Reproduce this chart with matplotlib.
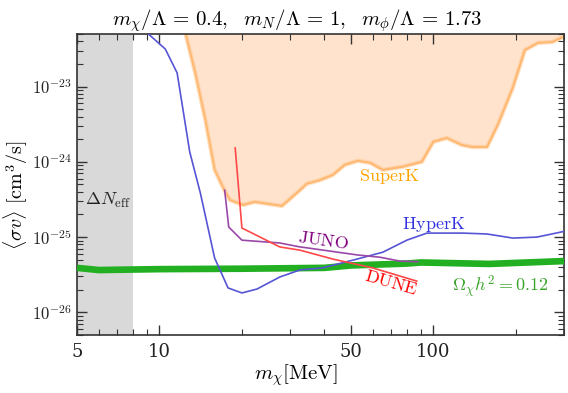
import numpy as np
import matplotlib
matplotlib.use("Agg")
import matplotlib.pyplot as plt
from matplotlib.ticker import FixedLocator, FixedFormatter, LogLocator, NullFormatter

plt.rcParams['mathtext.fontset'] = 'cm'
plt.rcParams['font.family'] = 'serif'
plt.rcParams['font.serif'] = ['DejaVu Serif']

# ---- data ----
hyperk_m = [8.8, 10.5, 11.6, 12.9, 14.1, 15.9, 17.8, 20.0, 22.7, 27.5, 32.6, 39.5, 52.6, 65.4, 80, 94.7, 128, 157, 195, 239, 300]
hyperk_sv = [5.6e-23, 3.16e-23, 1.52e-23, 1.35e-24, 3.86e-25, 5.27e-26, 2.11e-26, 1.81e-26, 2.04e-26, 2.95e-26, 3.66e-26,
             3.9e-26, 5.1e-26, 6.3e-26, 9.1e-26, 1.13e-25, 1.13e-25, 1.1e-25, 9.7e-26, 1.0e-25, 1.19e-25]

superk_m = [12.3, 13.5, 14.7, 15.9, 17.3, 18.1, 20.2, 22.3, 28.0, 32.6, 34.5, 38.5, 43, 47.5, 53, 58.7, 65.4, 77.4, 90.8,
            100, 112, 127, 139, 157, 172, 195, 216, 241, 271, 300]
superk_sv = [6e-23, 1.52e-23, 3.6e-24, 7.8e-25, 4.1e-25, 3.1e-25, 2.67e-25, 2.93e-25, 2.59e-25, 4.2e-25, 5.1e-25, 5.7e-25,
             6.7e-25, 9.1e-25, 1.03e-24, 9.7e-25, 7.8e-25, 8.6e-25, 1.0e-24, 1.84e-24, 2.07e-24, 1.67e-24, 1.57e-24,
             1.57e-24, 3.1e-24, 9.6e-24, 3.06e-23, 3.8e-23, 3.9e-23, 4.6e-23]

juno_m = [17.3, 17.9, 20.0, 27.5, 32.6, 34.5, 52.6, 63.8, 75.5, 87.8]
juno_sv = [4.2e-25, 1.36e-25, 9.1e-26, 8.35e-26, 7.4e-26, 7.2e-26, 5.8e-26, 5.4e-26, 4.8e-26, 4.7e-26]

dune_m = [18.9, 20.0, 27.5, 32.6, 43, 60, 87]
dune_sv = [1.53e-24, 1.32e-25, 7.4e-26, 6.7e-26, 5.1e-26, 3.9e-26, 2.6e-26]

relic_m = [5, 6, 10, 20, 40, 50, 80, 90, 160, 300]
relic_sv = [3.9e-26, 3.65e-26, 3.75e-26, 3.8e-26, 3.9e-26, 4.2e-26, 4.45e-26, 4.6e-26, 4.4e-26, 4.8e-26]

neff_bound = 8.0
xticks = [5, 10, 50, 100]
xticklabels = ['5', '10', '50', '100']
yticks = [1e-26, 1e-25, 1e-24, 1e-23]
yticklabels = [r'$10^{-26}$', r'$10^{-25}$', r'$10^{-24}$', r'$10^{-23}$']

# ---- plot ----
fig = plt.figure(figsize=(5.68, 3.93), dpi=100)
ax = fig.add_axes([0.1356, 0.1476, 0.8574, 0.7659])
ax.set_xscale('log')
ax.set_yscale('log')
ax.set_xlim(5, 300)
ax.set_ylim(5e-27, 5e-23)

ax.axvspan(5, neff_bound, color='#d9d9d9', lw=0, zorder=0)

ax.fill_between(superk_m, superk_sv, 1e-20, color='#ffe3cc', lw=0, zorder=1)
ax.plot(superk_m, superk_sv, color='#ffb060', lw=3.2, alpha=0.35, zorder=2)
ax.plot(superk_m, superk_sv, color='#ffb060', lw=1.4, alpha=0.8, zorder=2)

ax.plot(relic_m, relic_sv, color='#22b022', lw=4.8, zorder=3, solid_capstyle='butt')
ax.plot(hyperk_m, hyperk_sv, color='#5555d5', lw=1.2, zorder=4)
ax.plot(juno_m, juno_sv, color='#9a48a8', lw=1.2, zorder=4)
ax.plot(dune_m, dune_sv, color='#ff4848', lw=1.2, zorder=4)

fs = 13
ax.text(5.35, 3.1e-25, r'$\Delta N_{\rm eff}$', fontsize=fs, ha='left', va='center', color='#222222')
ax.text(68.8, 6.3e-25, r'$\mathrm{SuperK}$', fontsize=fs, ha='center', va='center', color='#ffa500')
ax.text(100, 1.45e-25, r'$\mathrm{HyperK}$', fontsize=fs, ha='center', va='center', color='#3232e0')
ax.text(39.8, 9.1e-26, r'$\mathrm{JUNO}$', fontsize=fs, ha='center', va='center', color='#800080', rotation=-8)
ax.text(70, 2.45e-26, r'$\mathrm{DUNE}$', fontsize=fs, ha='center', va='center', color='red', rotation=-16)
ax.text(176, 2.17e-26, r'$\Omega_\chi h^2 = 0.12$', fontsize=fs, ha='center', va='center', color='#3aa32a')

ax.xaxis.set_major_locator(FixedLocator(xticks))
ax.xaxis.set_major_formatter(FixedFormatter(xticklabels))
ax.xaxis.set_minor_locator(LogLocator(base=10, subs=np.arange(2, 10)))
ax.xaxis.set_minor_formatter(NullFormatter())
ax.yaxis.set_major_locator(FixedLocator(yticks))
ax.yaxis.set_major_formatter(FixedFormatter(yticklabels))
ax.yaxis.set_minor_locator(LogLocator(base=10, subs=np.arange(2, 10), numticks=20))
ax.yaxis.set_minor_formatter(NullFormatter())

ax.tick_params(which='both', direction='in', top=True, right=True, colors='#333333')
ax.tick_params(axis='x', labelsize=13)
ax.tick_params(axis='y', labelsize=12)
ax.tick_params(which='major', length=7, width=1.0)
ax.tick_params(which='minor', length=4, width=0.8)
ax.tick_params(axis='x', which='major', pad=6)
ax.tick_params(axis='y', which='major', pad=4)
for sp in ax.spines.values():
    sp.set_color('#333333')
    sp.set_linewidth(1.2)
for lbl in ax.get_xticklabels() + ax.get_yticklabels():
    lbl.set_color('#222222')

ax.set_xlabel(r'$m_\chi [\mathrm{MeV}]$', fontsize=15, va='top')
ax.xaxis.set_label_coords(0.45, -0.09)
ax.set_ylabel(r'$\langle \sigma v \rangle\ [\mathrm{cm}^3/\mathrm{s}]$', fontsize=14.5)
ax.yaxis.set_label_coords(-0.097, 0.465)
fig.text(297.5 / 568, 1 - 25 / 393,
         r'$m_\chi/\Lambda\,=\,0.4,\ \ m_N/\Lambda\,=\,1,\ \ m_\phi/\Lambda\,=\,1.73$',
         fontsize=15, ha='center', va='baseline')

fig.savefig('out.png', dpi=100)
